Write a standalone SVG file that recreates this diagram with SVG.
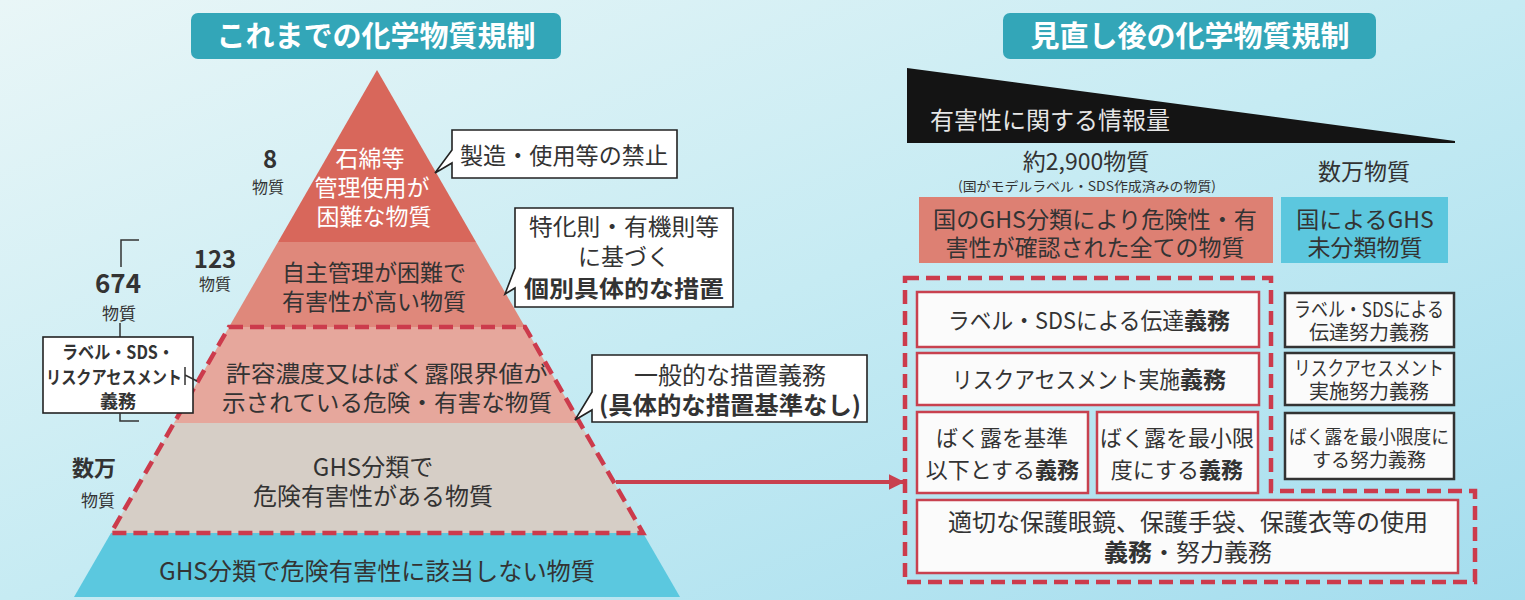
<svg xmlns="http://www.w3.org/2000/svg" width="1525" height="600" viewBox="0 0 1525 600">
<defs>
<linearGradient id="bg" x1="0" y1="0" x2="1" y2="1">
<stop offset="0" stop-color="#e9f6f7"/>
<stop offset="0.5" stop-color="#c6ebf3"/>
<stop offset="1" stop-color="#a4ddee"/>
</linearGradient>
<marker id="ah" viewBox="0 0 10 10" refX="9" refY="5" markerWidth="4" markerHeight="4" orient="auto" markerUnits="strokeWidth">
<path d="M0,0 L10,5 L0,10 Z" fill="#c8414f"/>
</marker>
<style>
.t{font-family:'Noto Sans CJK JP','Noto Sans',sans-serif;fill:#333}
.c{text-anchor:middle}
.e{text-anchor:end}
.b{font-weight:700}
.w{fill:#fff}
.title{fill:#33a6b8}
.call{fill:#fff;stroke:#222;stroke-width:1.6}
.rbox{fill:#fbfbfb;stroke:#c8414f;stroke-width:2.5}
.dbox{fill:#fbfbfb;stroke:#333;stroke-width:2.5}
.dash{fill:none;stroke:#cc3b4c;stroke-width:4.5;stroke-dasharray:14 7}
.thin{fill:none;stroke:#333;stroke-width:1.5}
</style>
</defs>
<rect x="0" y="0" width="1525" height="600" fill="url(#bg)"/>

<g id="title-left">
<rect class="title" x="191" y="13" width="370" height="46" rx="7"/>
<text class="t c b w" x="376" y="47" font-size="29">これまでの化学物質規制</text>
</g>

<g id="pyramid">
<g id="band1">
<polygon points="377,70 476,242 278,242" fill="#d8675b"/>
<text class="t c w" x="370" y="167" font-size="23">石綿等</text>
<text class="t c w" x="372" y="196" font-size="23">管理使用が</text>
<text class="t c w" x="374" y="225" font-size="23">困難な物質</text>
</g>
<g id="band2">
<polygon points="278,242 476,242 525,327 229,327" fill="#df887b"/>
<text class="t c" x="374" y="281" font-size="23">自主管理が困難で</text>
<text class="t c" x="374" y="310" font-size="23">有害性が高い物質</text>
</g>
<g id="band3">
<polygon points="229,327 525,327 580,423 174,423" fill="#e6a79c"/>
<text class="t c" x="387" y="382" font-size="23" textLength="322" lengthAdjust="spacingAndGlyphs">許容濃度又はばく露限界値が</text>
<text class="t c" x="387" y="411" font-size="23" textLength="330" lengthAdjust="spacingAndGlyphs">示されている危険・有害な物質</text>
</g>
<g id="band4">
<polygon points="174,423 580,423 643,533 111,533" fill="#d6cec6"/>
<text class="t c" x="373" y="476" font-size="24">GHS分類で</text>
<text class="t c" x="373" y="505" font-size="24">危険有害性がある物質</text>
</g>
<g id="band5">
<polygon points="111,533 643,533 680,597 74,597" fill="#5bc8df"/>
<text class="t c" x="377" y="580" font-size="24" textLength="436" lengthAdjust="spacingAndGlyphs">GHS分類で危険有害性に該当しない物質</text>
</g>
<path class="dash" d="M229,327 H525 L643,533 H111 Z"/>
</g>

<g id="left-labels">
<g id="lbl-8">
<text class="t c b" x="270" y="168" font-size="24">8</text>
<text class="t c" x="268" y="193" font-size="16">物質</text>
</g>
<g id="lbl-123">
<text class="t c b" x="215" y="268" font-size="24">123</text>
<text class="t c" x="215" y="290" font-size="16">物質</text>
</g>
<g id="lbl-674">
<path class="thin" d="M139,240 H121 V267"/>
<text class="t c b" x="118" y="293" font-size="26">674</text>
<text class="t c" x="119" y="320" font-size="17">物質</text>
<path class="thin" d="M120,323 V337"/>
</g>
<g id="box-674">
<rect class="call" x="43" y="337" width="150" height="76"/>
<path class="thin" d="M185,367 V385 M185,375 L197,381"/>
<text class="t c b" x="118" y="359" font-size="18" textLength="112" lengthAdjust="spacingAndGlyphs">ラベル・SDS・</text>
<text class="t c b" x="114" y="384" font-size="18" textLength="136" lengthAdjust="spacingAndGlyphs">リスクアセスメント</text>
<text class="t c b" x="118" y="408" font-size="18">義務</text>
<path class="thin" d="M120,413 V421 H139"/>
</g>
<g id="lbl-suman">
<text class="t c b" x="94" y="476" font-size="22">数万</text>
<text class="t c" x="98" y="507" font-size="17">物質</text>
</g>
</g>

<g id="callout1">
<path class="call" d="M452,130 H677 V178 H452 V163 L435,173 L452,150 Z"/>
<text class="t c" x="564" y="164" font-size="23" textLength="208" lengthAdjust="spacingAndGlyphs">製造・使用等の禁止</text>
</g>
<g id="callout2">
<path class="call" d="M515,208 H733 V307 H515 V288 L505,294 L515,268 Z"/>
<text class="t c" x="624" y="235" font-size="23" textLength="190" lengthAdjust="spacingAndGlyphs">特化則・有機則等</text>
<text class="t c" x="624" y="265" font-size="23">に基づく</text>
<text class="t c b" x="624" y="297" font-size="23" textLength="200" lengthAdjust="spacingAndGlyphs">個別具体的な措置</text>
</g>
<g id="callout3">
<path class="call" d="M592,355 H867 V422 H592 V410 L575,420 L592,392 Z"/>
<text class="t c" x="730" y="384" font-size="24">一般的な措置義務</text>
<text class="t c b" x="730" y="414" font-size="24" textLength="262" lengthAdjust="spacingAndGlyphs">(具体的な措置基準なし)</text>
</g>

<g id="connectors">
<line x1="616" y1="482" x2="903" y2="482" stroke="#c8414f" stroke-width="4" marker-end="url(#ah)"/>
</g>

<g id="title-right">
<rect class="title" x="1003" y="13" width="373" height="46" rx="7"/>
<text class="t c b w" x="1190" y="47" font-size="29">見直し後の化学物質規制</text>
</g>

<g id="wedge">
<polygon points="907,68 1455,141 1455,143 907,143" fill="#141414"/>
<text class="t" x="930" y="129" font-size="24" style="fill:#e6e6e6">有害性に関する情報量</text>
</g>

<g id="count-2900">
<text class="t c" x="1086" y="170" font-size="23">約2,900物質</text>
<text class="t c" x="1087" y="191" font-size="13" textLength="258" lengthAdjust="spacingAndGlyphs">(国がモデルラベル・SDS作成済みの物質)</text>
</g>
<g id="count-suman">
<text class="t c" x="1364" y="180" font-size="23">数万物質</text>
</g>

<g id="box-classified">
<rect x="919" y="197" width="354" height="66" fill="#dd8073"/>
<text class="t c" x="1095" y="228" font-size="23" textLength="324" lengthAdjust="spacingAndGlyphs">国のGHS分類により危険性・有</text>
<text class="t c" x="1095" y="256" font-size="23">害性が確認された全ての物質</text>
</g>
<g id="box-unclassified">
<rect x="1281" y="197" width="167" height="66" fill="#5cc7de"/>
<text class="t c" x="1365" y="228" font-size="23">国によるGHS</text>
<text class="t c" x="1365" y="256" font-size="23">未分類物質</text>
</g>

<g id="obligation-area">
<path class="dash" d="M905,278 H1271 V491 H1475 V582 H905 Z"/>
</g>

<g id="ob-label">
<rect class="rbox" x="917" y="292" width="342" height="55"/>
<text class="t e" x="1184" y="329" font-size="23" textLength="236" lengthAdjust="spacingAndGlyphs">ラベル・SDSによる伝達</text>
<text class="t b" x="1184" y="329" font-size="23">義務</text>
</g>
<g id="ob-risk">
<rect class="rbox" x="917" y="353" width="342" height="52"/>
<text class="t e" x="1180" y="388" font-size="23" textLength="228" lengthAdjust="spacingAndGlyphs">リスクアセスメント実施</text>
<text class="t b" x="1180" y="388" font-size="23">義務</text>
</g>
<g id="ob-exposure-std">
<rect class="rbox" x="917" y="412" width="171" height="81"/>
<text class="t c" x="1002" y="446" font-size="22">ばく露を基準</text>
<text class="t e" x="1035" y="478" font-size="22">以下とする</text>
<text class="t b" x="1035" y="478" font-size="22">義務</text>
</g>
<g id="ob-exposure-min">
<rect class="rbox" x="1097" y="412" width="161" height="81"/>
<text class="t c" x="1177" y="446" font-size="22">ばく露を最小限</text>
<text class="t e" x="1199" y="478" font-size="22">度にする</text>
<text class="t b" x="1199" y="478" font-size="22">義務</text>
</g>
<g id="ob-ppe">
<rect class="rbox" x="917" y="500" width="541" height="73"/>
<text class="t c" x="1188" y="531" font-size="24">適切な保護眼鏡、保護手袋、保護衣等の使用</text>
<text class="t e b" x="1152" y="561" font-size="24">義務</text>
<text class="t" x="1152" y="561" font-size="24">・努力義務</text>
</g>

<g id="ef-label">
<rect class="dbox" x="1285" y="293" width="169" height="54"/>
<text class="t c" x="1369" y="317" font-size="20" textLength="150" lengthAdjust="spacingAndGlyphs">ラベル・SDSによる</text>
<text class="t c" x="1369" y="340" font-size="20">伝達努力義務</text>
</g>
<g id="ef-risk">
<rect class="dbox" x="1285" y="353" width="169" height="52"/>
<text class="t c" x="1369" y="376" font-size="20" textLength="150" lengthAdjust="spacingAndGlyphs">リスクアセスメント</text>
<text class="t c" x="1369" y="399" font-size="20">実施努力義務</text>
</g>
<g id="ef-exposure">
<rect class="dbox" x="1285" y="413" width="169" height="66"/>
<text class="t c" x="1369" y="444" font-size="19" textLength="160" lengthAdjust="spacingAndGlyphs">ばく露を最小限度に</text>
<text class="t c" x="1369" y="467" font-size="19">する努力義務</text>
</g>
</svg>
